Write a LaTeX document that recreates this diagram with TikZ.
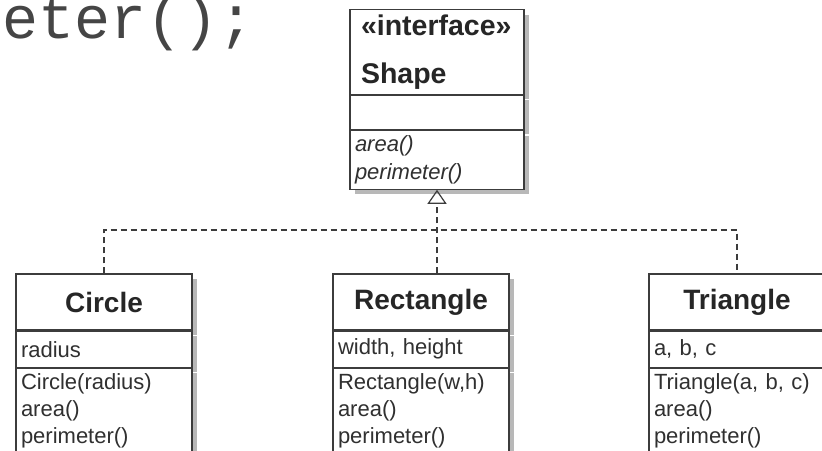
\documentclass[tikz,border=0pt]{standalone}
\usepackage{fontspec}
\setmainfont{Liberation Sans}
\setmonofont{Liberation Mono}
\usetikzlibrary{positioning}
\usetikzlibrary{arrows.meta,shadows}

\definecolor{linegray}{HTML}{3C3C3C}
\definecolor{textgray}{HTML}{303030}
\definecolor{codegray}{HTML}{454545}
\definecolor{shadowgray}{HTML}{B8B8B8}

\begin{document}
\begin{tikzpicture}[x=1pt,y=-1pt,
    part/.style={draw=linegray,line width=1.2pt,fill=white,
      minimum width=176pt,text width=166pt,inner xsep=5pt,inner ysep=5pt,
      align=left,text=textgray,font=\fontsize{22}{27}\selectfont,
      drop shadow={shadow xshift=5pt,shadow yshift=-5pt,fill=shadowgray,opacity=1}},
    head/.style={part,align=center,minimum height=56pt,
      font=\bfseries\fontsize{28}{34}\selectfont,text=black!85},
    attr/.style={part,minimum height=36pt},
    ops/.style={part,text depth=66pt},
    iface/.style={minimum width=174pt,text width=164pt},
    realize/.style={draw=linegray,line width=1.2pt,dash pattern=on 6pt off 4pt}]
  \fill[white] (0,0) rectangle (822,450);
  \useasboundingbox (0,0) rectangle (822,450);

  % cut-off code line
  \node[anchor=base west,inner sep=0pt,text=codegray,
    font=\ttfamily\fontsize{60}{60}\selectfont] (codeTail) at (2,38) {eter();};

  % interface
  \node[part,iface,minimum height=84pt,inner xsep=11pt,text width=152pt,
    font=\bfseries\fontsize{28.5}{48}\selectfont,text=black!85] (shapeHead) at (437,52)
    {«interface»\\Shape};
  \node[part,iface,minimum height=34pt,below=0pt of shapeHead] (shapeAttr) {};
  \node[part,iface,below=0pt of shapeAttr,
    font=\itshape\fontsize{22}{28}\selectfont] (shapeOps) {area()\\perimeter()};

  % classes
  \node[head] (circleHead) at (104,302) {Circle};
  \node[attr,below=0pt of circleHead] (circleAttr) {radius};
  \node[ops,below=0pt of circleAttr] (circleOps) {Circle(radius)\\area()\\perimeter()};

  \node[head] (rectangleHead) at (421,302) {Rectangle};
  \node[attr,below=0pt of rectangleHead] (rectangleAttr) {width, height};
  \node[ops,below=0pt of rectangleAttr] (rectangleOps) {Rectangle(w,h)\\area()\\perimeter()};

  \node[head] (triangleHead) at (737,302) {Triangle};
  \node[attr,below=0pt of triangleHead] (triangleAttr) {a, b, c};
  \node[ops,below=0pt of triangleAttr] (triangleOps) {Triangle(a, b, c)\\area()\\perimeter()};

  % realization
  \coordinate (bus) at (437,230);
  \draw[realize] (circleHead.north) |- (bus) -| (triangleHead.north);
  \draw[realize,-{Triangle[open,length=14pt,width=19pt,line width=1.2pt]}]
    (rectangleHead.north -| shapeOps.south) -- (shapeOps.south);
\end{tikzpicture}
\end{document}
